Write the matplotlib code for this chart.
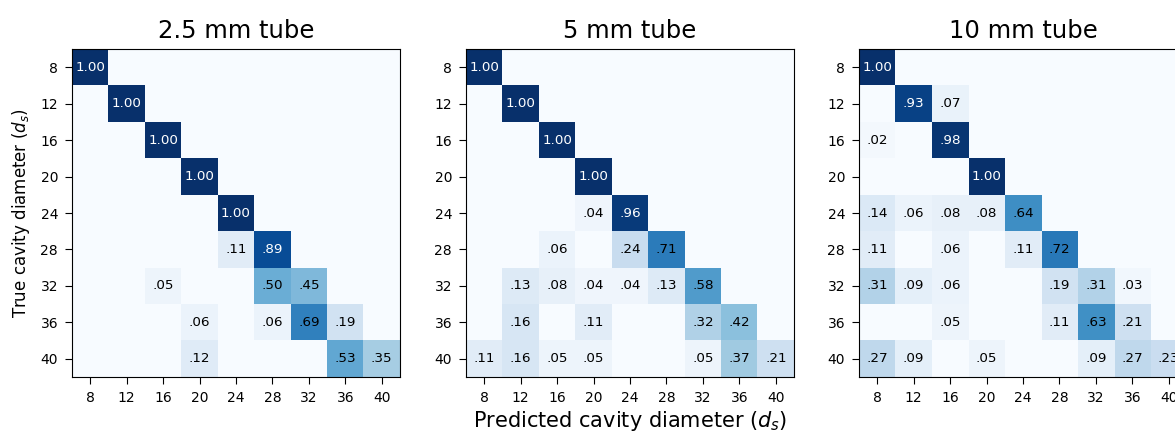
import numpy as np
import matplotlib.pyplot as plt

sizes = [8, 12, 16, 20, 24, 28, 32, 36, 40]
titles = ['2.5 mm tube', '5 mm tube', '10 mm tube']

cm_25 = [
    [1.00, 0, 0, 0, 0, 0, 0, 0, 0],
    [0, 1.00, 0, 0, 0, 0, 0, 0, 0],
    [0, 0, 1.00, 0, 0, 0, 0, 0, 0],
    [0, 0, 0, 1.00, 0, 0, 0, 0, 0],
    [0, 0, 0, 0, 1.00, 0, 0, 0, 0],
    [0, 0, 0, 0, .11, .89, 0, 0, 0],
    [0, 0, .05, 0, 0, .50, .45, 0, 0],
    [0, 0, 0, .06, 0, .06, .69, .19, 0],
    [0, 0, 0, .12, 0, 0, 0, .53, .35],
]
cm_5 = [
    [1.00, 0, 0, 0, 0, 0, 0, 0, 0],
    [0, 1.00, 0, 0, 0, 0, 0, 0, 0],
    [0, 0, 1.00, 0, 0, 0, 0, 0, 0],
    [0, 0, 0, 1.00, 0, 0, 0, 0, 0],
    [0, 0, 0, .04, .96, 0, 0, 0, 0],
    [0, 0, .06, 0, .24, .71, 0, 0, 0],
    [0, .13, .08, .04, .04, .13, .58, 0, 0],
    [0, .16, 0, .11, 0, 0, .32, .42, 0],
    [.11, .16, .05, .05, 0, 0, .05, .37, .21],
]
cm_10 = [
    [1.00, 0, 0, 0, 0, 0, 0, 0, 0],
    [0, .93, .07, 0, 0, 0, 0, 0, 0],
    [.02, 0, .98, 0, 0, 0, 0, 0, 0],
    [0, 0, 0, 1.00, 0, 0, 0, 0, 0],
    [.14, .06, .08, .08, .64, 0, 0, 0, 0],
    [.11, 0, .06, 0, .11, .72, 0, 0, 0],
    [.31, .09, .06, 0, 0, .19, .31, .03, 0],
    [0, 0, .05, 0, 0, .11, .63, .21, 0],
    [.27, .09, 0, .05, 0, 0, .09, .27, .23],
]
matrices = [cm_25, cm_5, cm_10]

fig = plt.figure(figsize=(11.75, 4.33), dpi=100)

# axes positions in pixels (left, top) -> fractions
W, H = 1175.0, 433.0
lefts = [72, 466, 859]
top_px, size_px = 49, 328

for k in range(3):
    ax = fig.add_axes([lefts[k] / W, (H - top_px - size_px) / H, size_px / W, size_px / H])
    m = np.array(matrices[k])
    ax.imshow(m, cmap='Blues', vmin=0, vmax=1, interpolation='nearest', aspect='equal')
    for i in range(m.shape[0]):
        for j in range(m.shape[1]):
            v = m[i, j]
            if v > 0:
                txt = '%.2f' % v
                if txt.startswith('0'):
                    txt = txt[1:]
                ax.text(j, i, txt, ha='center', va='center', fontsize=9.7,
                        color='white' if v > 0.75 else 'black')
    ax.set_xticks(range(len(sizes)))
    ax.set_xticklabels(sizes, fontsize=10)
    ax.set_yticks(range(len(sizes)))
    ax.set_yticklabels(sizes, fontsize=10)
    ax.tick_params(length=5, pad=5)
    ax.set_title(titles[k], fontsize=17.5, pad=8)
    if k == 0:
        ax.set_ylabel('True cavity diameter ($d_s$)', fontsize=12, labelpad=6)
    if k == 1:
        ax.set_xlabel('Predicted cavity diameter ($d_s$)', fontsize=15, labelpad=3)

fig.savefig('out.png', dpi=100)
